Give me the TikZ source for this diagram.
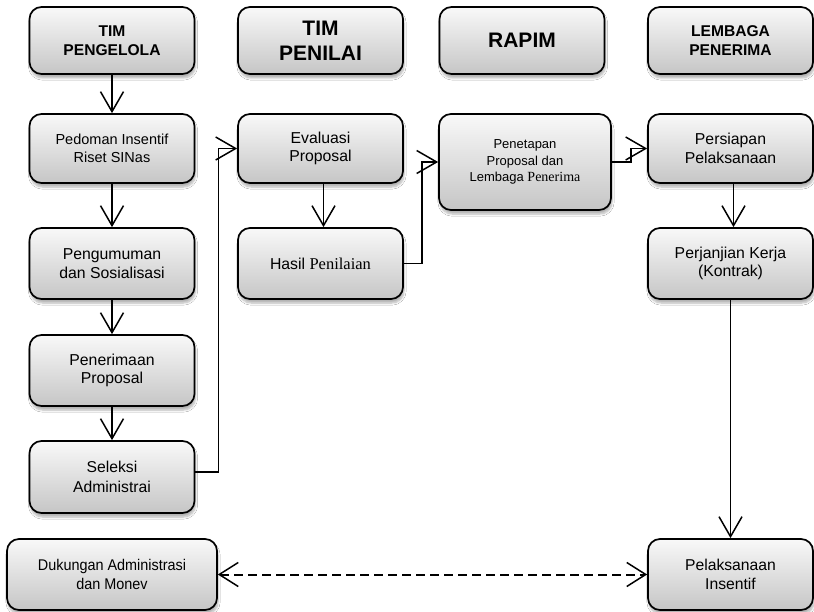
\documentclass[tikz,border=0pt]{standalone}
\usepackage{fontspec}
\setmainfont{Liberation Sans}
\newfontfamily\cambriafont{Liberation Serif}
\newfontfamily\narrowfont{Liberation Sans}[FakeStretch=0.93]
\usetikzlibrary{arrows.meta,shadows.blur,calc}
\begin{document}
\begin{tikzpicture}[x=1pt,y=-1pt,
  box/.style={draw=black, line width=1.7pt, rounded corners=12pt,
    top color=gray!5, bottom color=gray!45, align=center, inner sep=2pt,
    blur shadow={shadow xshift=1pt, shadow yshift=-4pt, shadow blur steps=6, shadow opacity=30},
    minimum width=165pt, minimum height=69pt,
    font=\fontsize{15.8}{18.5}\selectfont},
  hdr/.style={box, minimum height=67pt, font=\bfseries\fontsize{15.6}{19}\selectfont},
  bighdr/.style={box, minimum height=67pt, font=\bfseries\fontsize{21}{25}\selectfont},
  conn/.style={line width=1.5pt, -{Straight Barb[length=20pt,width=23pt,line width=1.5pt]}},
  dashconn/.style={line width=2pt, dash pattern=on 9pt off 5pt,
    {Straight Barb[length=19pt,width=24pt,line width=1.5pt]}-{Straight Barb[length=19pt,width=24pt,line width=1.5pt]}},
]
\useasboundingbox (0,0) rectangle (814,612);
\fill[white] (0,0) rectangle (814,612);

% headers
\node[hdr] (pengelola) at (112,40.5) {TIM\\PENGELOLA};
\node[bighdr] (penilai) at (320.5,40.5) {TIM\\PENILAI};
\node[bighdr] (rapim) at (522,40.5) {RAPIM};
\node[hdr] (lembaga) at (730.5,40.5) {LEMBAGA\\PENERIMA};

% column 1
\node[box, font=\fontsize{14.5}{18}\selectfont] (pedoman) at (112,148.5) {Pedoman Insentif\\Riset SINas};
\node[box, minimum height=71pt] (pengumuman) at (112,263.5) {Pengumuman\\dan Sosialisasi};
\node[box, minimum height=71pt] (penerimaan) at (112,370.5) {Penerimaan\\Proposal};
\node[box, minimum height=72pt, font=\fontsize{15.7}{20}\selectfont] (seleksi) at (112,477) {Seleksi\\Administrai};
\node[box, minimum width=210pt, minimum height=71pt, font=\narrowfont\fontsize{15.5}{19}\selectfont] (dukungan) at (112,574.5) {Dukungan Administrasi\\dan Monev};

% column 2
\node[box] (evaluasi) at (320.5,148.5) {Evaluasi\\Proposal};
\node[box, minimum height=71pt] (hasil) at (320.5,263.5) {Hasil {\cambriafont\fontsize{16.5}{18}\selectfont Penilaian}};

% column 3
\node[box, minimum width=172pt, minimum height=96pt, font=\fontsize{13}{16.5}\selectfont] (penetapan) at (525,162) {Penetapan\\Proposal dan\\Lembaga {\cambriafont\fontsize{14}{16.5}\selectfont Penerima}};

% column 4
\node[box] (persiapan) at (730.5,148.5) {Persiapan\\Pelaksanaan};
\node[box, minimum height=71pt] (perjanjian) at (730.5,263.5) {Perjanjian Kerja\\(Kontrak)};
\node[box, minimum height=71pt, font=\fontsize{15.7}{19}\selectfont] (pelaksanaan) at (730.5,574.5) {Pelaksanaan\\Insentif};

% connectors
\draw[conn] (pengelola) -- (pedoman);
\draw[conn] (pedoman) -- (pengumuman);
\draw[conn] (pengumuman) -- (penerimaan);
\draw[conn] (penerimaan) -- (seleksi);
\draw[conn] ([yshift=5pt]seleksi.east) -- ++(23,0) |- (evaluasi.west);
\draw[conn] ([xshift=3pt]evaluasi.south) -- ([xshift=3pt]hasil.north);
\draw[conn] (hasil.east) -- ++(18,0) |- (penetapan.west);
\draw[conn] (penetapan.east) -- ++(19,0) |- (persiapan.west);
\draw[conn] ([xshift=3pt]persiapan.south) -- ([xshift=3pt]perjanjian.north);
\draw[conn] (perjanjian) -- (pelaksanaan);
\draw[dashconn] (dukungan.east) -- (pelaksanaan.west);
\end{tikzpicture}
\end{document}
